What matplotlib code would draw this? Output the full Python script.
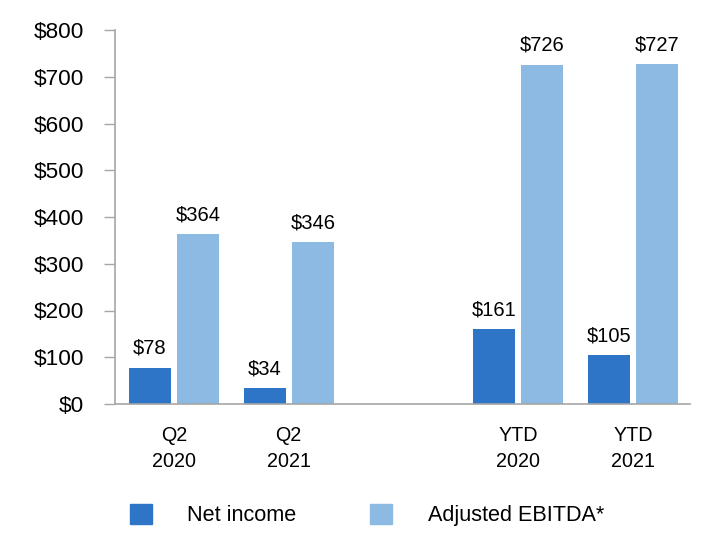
import matplotlib
matplotlib.use("Agg")
import matplotlib.pyplot as plt
from matplotlib.patches import Patch

plt.rcParams['font.family'] = ['Liberation Sans', 'DejaVu Sans']

# chart data ($ millions)
groups = ['Q2\n2020', 'Q2\n2021', 'YTD\n2020', 'YTD\n2021']
positions = [0, 1, 3, 4]
net_income = [78, 34, 161, 105]
adj_ebitda = [364, 346, 726, 727]
y_ticks = [0, 100, 200, 300, 400, 500, 600, 700, 800]

dark = '#2E75C8'
light = '#8CBAE3'
spine_col = '#A6A6A6'

fig = plt.figure(figsize=(7.2, 5.6), dpi=100)
ax = fig.add_axes([115 / 720, 1 - 404 / 560, (690 - 115) / 720, (404 - 30) / 560])

w = 0.366
off = 0.21
b1 = ax.bar([p - off for p in positions], net_income, width=w, color=dark)
b2 = ax.bar([p + off for p in positions], adj_ebitda, width=w, color=light)

ax.bar_label(b1, labels=['$%d' % v for v in net_income], padding=7, fontsize=14.5)
ax.bar_label(b2, labels=['$%d' % v for v in adj_ebitda], padding=7, fontsize=14.5)

ax.set_xlim(-0.514, 4.497)
ax.set_ylim(0, 800)
ax.set_yticks(y_ticks)
ax.set_yticklabels(['$%d' % v for v in y_ticks])
ax.set_xticks(positions)
ax.set_xticklabels(groups, linespacing=1.45)

ax.tick_params(axis='y', length=8, width=1, color=spine_col, pad=14, labelsize=16.2)
ax.tick_params(axis='x', length=0, pad=16, labelsize=14.2)

for s in ['top', 'right']:
    ax.spines[s].set_visible(False)
for s in ['left', 'bottom']:
    ax.spines[s].set_color(spine_col)
    ax.spines[s].set_linewidth(1.2)

handles = [Patch(color=dark, label='Net income'),
           Patch(color=light, label='Adjusted EBITDA*')]
fig.legend(handles=handles, loc='center left', bbox_to_anchor=(130 / 720, 1 - 515 / 560),
           ncol=2, frameon=False, fontsize=15.6, handlelength=1.02, handleheight=1.02,
           handletextpad=1.63, columnspacing=3.4, borderpad=0, borderaxespad=0)

fig.savefig('out.png', dpi=100)
